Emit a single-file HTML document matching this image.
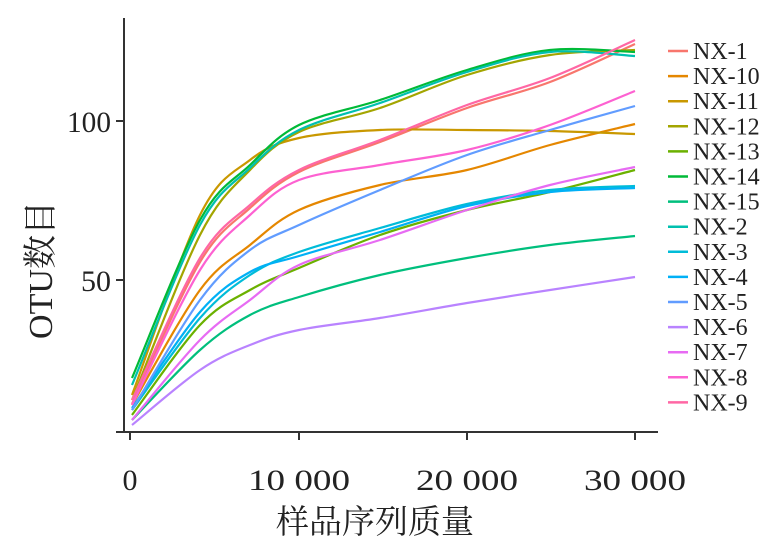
<!DOCTYPE html><html><head><meta charset="utf-8"><style>body{margin:0;background:#fff}svg{display:block}text{font-family:"Liberation Serif","Noto Serif CJK SC",serif;fill:#222}</style></head><body>
<svg id="s" width="780" height="554" viewBox="0 0 780 554">
<g stroke="#333" stroke-width="2" fill="none">
<line x1="124" y1="18" x2="124" y2="433"/><line x1="116" y1="432" x2="658" y2="432"/>
<line x1="116" y1="121" x2="124" y2="121"/><line x1="116" y1="280" x2="124" y2="280"/>
<line x1="130" y1="432" x2="130" y2="440"/><line x1="299" y1="432" x2="299" y2="440"/><line x1="467" y1="432" x2="467" y2="440"/><line x1="635" y1="432" x2="635" y2="440"/>
</g>
<g font-size="30" text-anchor="end"><text x="111" y="132" textLength="44" lengthAdjust="spacingAndGlyphs">100</text><text x="111" y="291">50</text></g>
<g font-size="30" text-anchor="middle"><text x="130" y="490">0</text><text x="299" y="490" textLength="102" lengthAdjust="spacingAndGlyphs">10 000</text><text x="467" y="490" textLength="102" lengthAdjust="spacingAndGlyphs">20 000</text><text x="635" y="490" textLength="102" lengthAdjust="spacingAndGlyphs">30 000</text></g>
<text x="375" y="533" font-size="33" text-anchor="middle">样品序列质量</text>
<text transform="translate(52,270) rotate(-90)" font-size="34" text-anchor="middle">OTU数目</text>
<g id="c" fill="none" stroke-width="2.2"></g><g id="l"></g>
</svg>
<script>
var xs=[132,200,250,299,380,467,550,635];
var D=[["NX-1","#F8766D",[404,262,208,172,142,108,82,44]],
["NX-10","#E58700",[405,290,245,210,185,170,145,124]],
["NX-11","#C99800",[395,215,160,138,130,130,131,134]],
["NX-12","#A3A500",[400,235,170,132,108,75,55,50]],
["NX-13","#6BB100",[415,325,290,268,235,210,192,170]],
["NX-14","#00BA38",[378,220,165,125,100,70,50,52]],
["NX-15","#00BF7D",[420,350,315,297,275,258,245,236]],
["NX-2","#00C0AF",[385,225,168,130,103,72,52,56]],
["NX-3","#00BCD8",[410,318,275,252,228,204,190,186]],
["NX-4","#00B0F6",[408,312,272,256,232,206,192,188]],
["NX-5","#619CFF",[410,300,250,225,190,155,130,106]],
["NX-6","#B983FF",[425,370,345,330,318,303,290,277]],
["NX-7","#E76BF3",[420,340,300,265,240,210,185,167]],
["NX-8","#FD61D1",[405,270,215,180,165,150,125,91]],
["NX-9","#FF67A4",[400,258,205,170,140,105,78,40]]];
var c=document.getElementById('c'),l=document.getElementById('l'),h='',g='';
D.forEach(function(d,i){var y=d[2],p='M'+xs[0]+','+y[0];
for(var k=0;k<7;k++){var x0=xs[Math.max(k-1,0)],y0=y[Math.max(k-1,0)],x1=xs[k],y1=y[k],x2=xs[k+1],y2=y[k+1],x3=xs[Math.min(k+2,7)],y3=y[Math.min(k+2,7)];
p+=' C'+(x1+(x2-x0)/6)+','+(y1+(y2-y0)/6)+' '+(x2-(x3-x1)/6)+','+(y2-(y3-y1)/6)+' '+x2+','+y2;}
h+='<path d="'+p+'" stroke="'+d[1]+'"/>';
var yy=51+i*25.1;g+='<line x1="668" x2="688" y1="'+yy+'" y2="'+yy+'" stroke="'+d[1]+'" stroke-width="2.5"/><text x="693" y="'+(yy+8)+'" font-size="24">'+d[0]+'</text>';});
c.innerHTML=h;l.innerHTML=g;
</script></body></html>
